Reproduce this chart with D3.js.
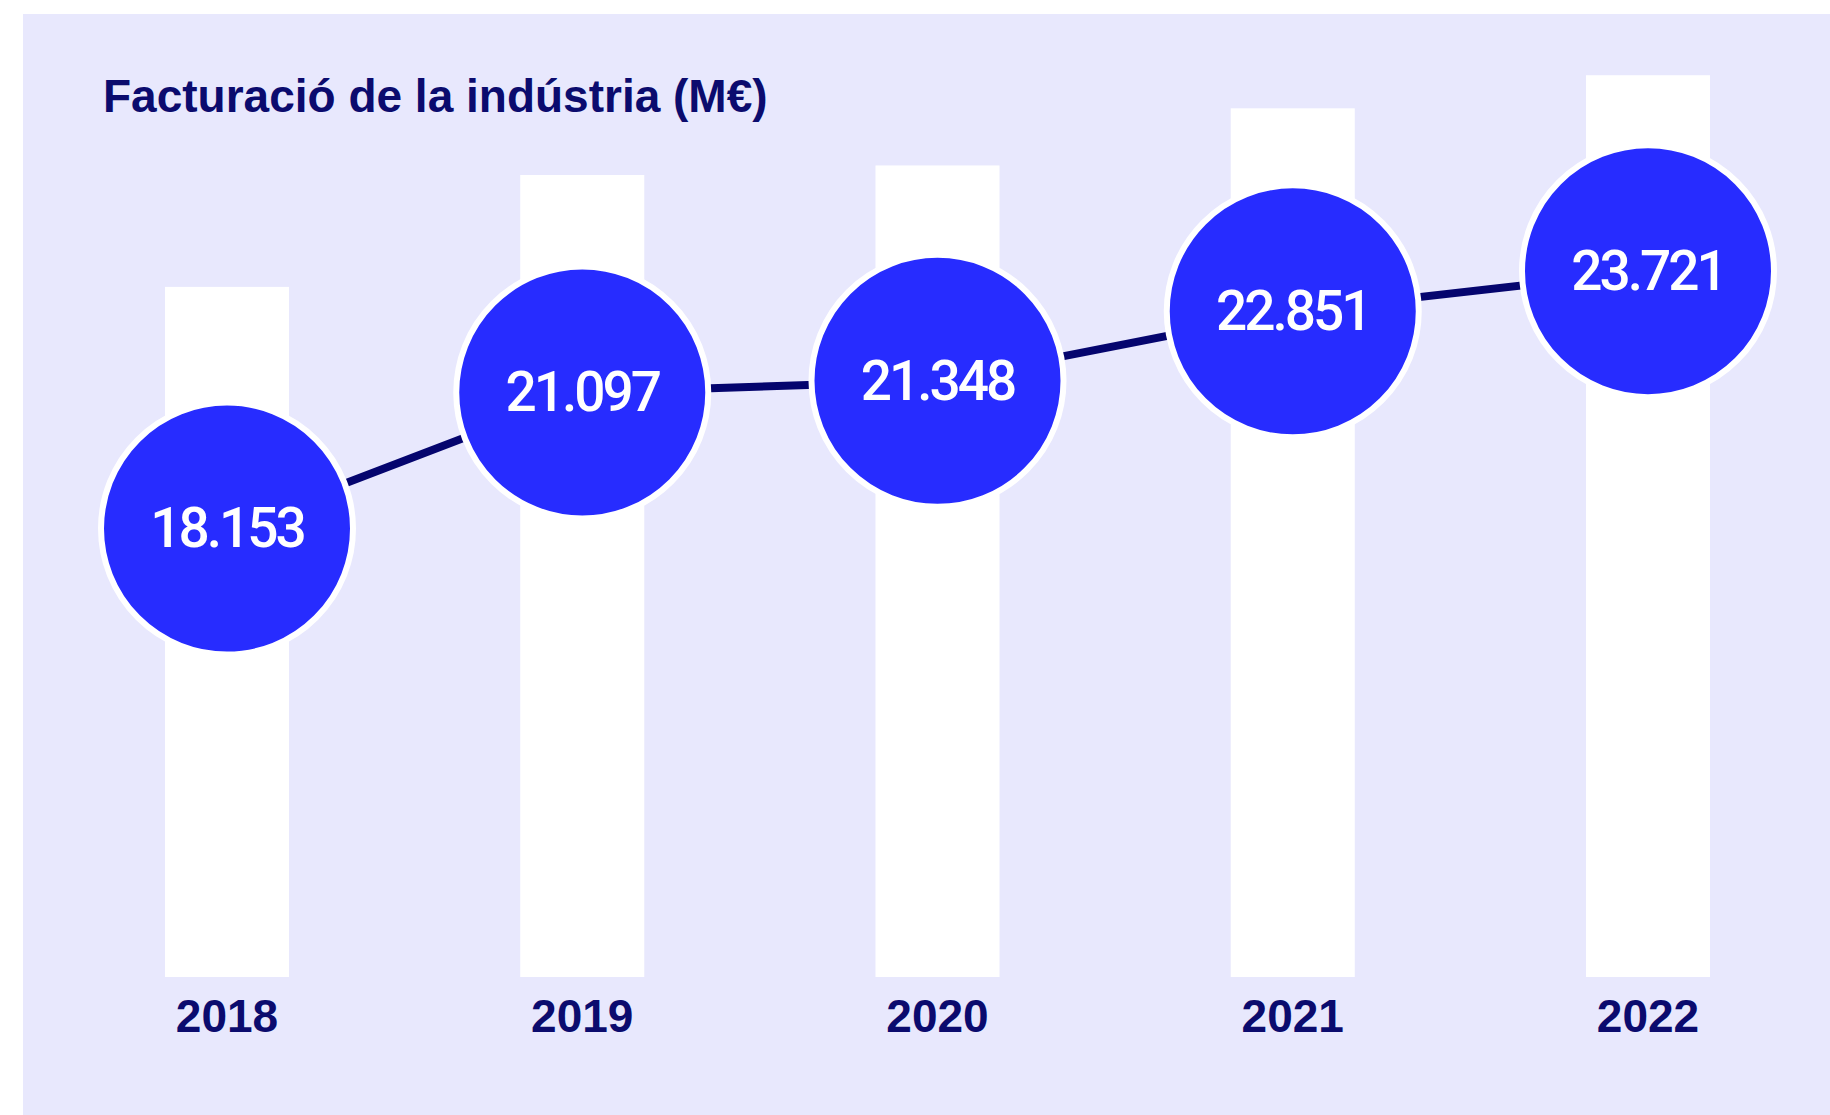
<!DOCTYPE html>
<meta charset="utf-8">
<head>
  <title>Facturació de la indústria</title>
</head>
<style>
  body {
    margin: 0;
    background: #fff;
    font-family: "Liberation Sans", Arial, sans-serif;
  }
  .title {
    font-size: 46px;
    font-weight: bold;
    fill: #0b0b6e;
  }
  .year {
    font-size: 46px;
    font-weight: bold;
    fill: #0b0b6e;
    text-anchor: middle;
  }
  .val {
    font-family: Roboto, "Liberation Sans", sans-serif;
    font-weight: 500;
    font-size: 55px;
    fill: #fff;
    text-anchor: middle;
    letter-spacing: -3px;
  }
</style>
<body>
<script src="https://cdn.jsdelivr.net/npm/d3@7"></script>
<script>
// data
var years = ["2018", "2019", "2020", "2021", "2022"];
var sales = [18153, 21097, 21348, 22851, 23721];
var labels = ["18.153", "21.097", "21.348", "22.851", "23.721"];

var width = 1830, height = 1115;

var svg = d3.select("body").append("svg")
    .attr("width", width)
    .attr("height", height);

// lavender panel
svg.append("rect")
    .attr("x", 23).attr("y", 14)
    .attr("width", width - 23).attr("height", height - 14)
    .attr("fill", "#e8e8fd");

svg.append("text")
    .attr("class", "title")
    .attr("x", 103)
    .attr("y", 112)
    .text("Facturació de la indústria (M€)");

// scales
var x = d3.scalePoint().domain(years).range([227, 1648]),
    barW = 124,
    yBar = d3.scaleLinear().domain([0, 25700]).range([977, 0]),   // bars
    yDot = d3.scaleLinear().domain([0, 25000]).range([1368, 212]); // bubbles + line

var data = years.map(function(y, i) { return {year: y, value: sales[i], label: labels[i]}; });

// white bars
svg.selectAll(".bar")
    .data(data)
  .enter().append("rect")
    .attr("class", "bar")
    .attr("x", function(d) { return x(d.year) - barW / 2; })
    .attr("width", barW)
    .attr("y", function(d) { return yBar(d.value); })
    .attr("height", function(d) { return yBar(0) - yBar(d.value); })
    .attr("fill", "#fff");

// year labels
svg.selectAll(".year")
    .data(data)
  .enter().append("text")
    .attr("class", "year")
    .attr("x", function(d) { return x(d.year); })
    .attr("y", 1032)
    .text(function(d) { return d.year; });

// connecting line
var line = d3.line()
    .x(function(d) { return x(d.year); })
    .y(function(d) { return yDot(d.value); });

svg.append("path")
    .datum(data)
    .attr("d", line)
    .attr("fill", "none")
    .attr("stroke", "#05056e")
    .attr("stroke-width", 8);

// bubbles
svg.selectAll(".dot")
    .data(data)
  .enter().append("circle")
    .attr("class", "dot")
    .attr("cx", function(d) { return x(d.year); })
    .attr("cy", function(d) { return yDot(d.value); })
    .attr("r", 126)
    .attr("fill", "#272cff")
    .attr("stroke", "#fff")
    .attr("stroke-width", 6);

svg.selectAll(".val")
    .data(data)
  .enter().append("text")
    .attr("class", "val")
    .attr("x", function(d) { return x(d.year); })
    .attr("y", function(d) { return yDot(d.value); })
    .attr("dy", "0.34em")
    .text(function(d) { return d.label; });
</script>
</body>
